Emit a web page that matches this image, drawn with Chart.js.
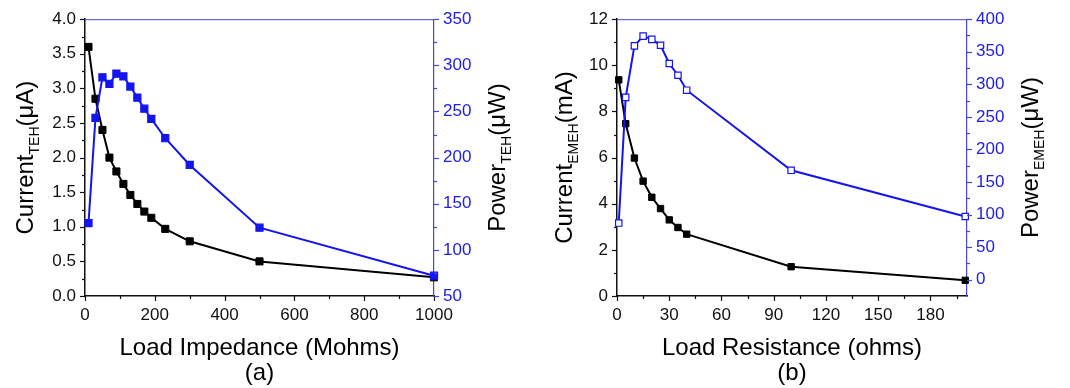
<!DOCTYPE html>
<html><head><meta charset="utf-8">
<script src="https://cdn.jsdelivr.net/npm/chart.js@4/dist/chart.umd.min.js"></script>
<style>
html,body{margin:0;padding:0;background:#fff;}
#wrap{position:relative;width:1070px;height:388px;overflow:hidden;}
.box{position:absolute;top:0;width:535px;height:388px;}
canvas{display:block;}
</style></head><body>
<div id="wrap">
<div class="box" style="left:0"><canvas id="ca" width="535" height="388"></canvas></div>
<div class="box" style="left:535px"><canvas id="cb" width="535" height="388"></canvas></div>
</div>
<script>
// ---- Panel (a): TEH ----
const aLoad    = [10, 30, 50, 70, 90, 110, 130, 150, 170, 190, 230, 300, 500, 1000];
const aCurrent = [3.60, 2.85, 2.40, 2.00, 1.80, 1.62, 1.46, 1.33, 1.22, 1.13, 0.97, 0.79, 0.50, 0.27];
const aPower   = [129, 243, 287, 280, 291, 288, 277, 265, 253, 242, 221, 192, 124, 72];
const aXTicks  = [0, 200, 400, 600, 800, 1000];
const aYLTicks = [0, 0.5, 1, 1.5, 2, 2.5, 3, 3.5, 4];
const aYLLabels = ['0.0','0.5','1.0','1.5','2.0','2.5','3.0','3.5','4.0'];
const aYRTicks = [50, 100, 150, 200, 250, 300, 350];

// ---- Panel (b): EMEH ----
const bLoad    = [1, 5, 10, 15, 20, 25, 30, 35, 40, 100, 200];
const bCurrent = [9.37, 7.47, 5.98, 4.98, 4.28, 3.79, 3.30, 2.97, 2.68, 1.27, 0.68];
const bPower   = [87, 280, 359, 374, 369, 360, 332, 314, 291, 168, 97];
const bXTicks  = [0, 30, 60, 90, 120, 150, 180];
const bYLTicks = [0, 2, 4, 6, 8, 10, 12];
const bYRTicks = [0, 50, 100, 150, 200, 250, 300, 350, 400];

const FONT = "'Liberation Sans', Arial, sans-serif";
const BLUE = '#1414ee';
const AXBLUE = '#4545e0';
const TICKBLUE = '#2020e0';

function pts(xs, ys){ return xs.map((x,i)=>({x:x, y:ys[i]})); }
function setTicks(arr){ return function(scale){ scale.ticks = arr.map(v=>({value:v})); }; }
function minorsOf(arr, lo, hi){
  const out=[]; const step = arr[1]-arr[0];
  for(let i=0;i<arr.length-1;i++) out.push((arr[i]+arr[i+1])/2);
  const last = arr[arr.length-1]+step/2; if(last<=hi) out.push(last);
  const first = arr[0]-step/2; if(first>=lo && first!==lo) out.unshift(first);
  return out;
}

function drawRich(ctx, parts, x, y, rotate, size, subSize, subDy){
  const widths = parts.map(p=>{ ctx.font=(p[1]?subSize:size)+'px '+FONT; return ctx.measureText(p[0]).width; });
  const total = widths.reduce((a,b)=>a+b,0);
  ctx.save();
  ctx.translate(x,y);
  if(rotate) ctx.rotate(-Math.PI/2);
  ctx.textAlign='left'; ctx.textBaseline='alphabetic'; ctx.fillStyle='#000';
  let cx=-total/2;
  parts.forEach((p,i)=>{ ctx.font=(p[1]?subSize:size)+'px '+FONT; ctx.fillText(p[0], cx, p[1]?subDy:0); cx+=widths[i]; });
  ctx.restore();
}

const marksPlugin = {
  id:'marks',
  afterDraw(chart, args, o){
    const ctx = chart.ctx, a = chart.chartArea;
    ctx.save();
    ctx.strokeStyle = AXBLUE; ctx.lineWidth = 1;
    ctx.beginPath(); ctx.moveTo(a.left, a.top+0.5); ctx.lineTo(a.right, a.top+0.5); ctx.stroke();
    for(const m of o.axes){
      const s = chart.scales[m.id];
      ctx.strokeStyle = m.color; ctx.lineWidth = 1.2;
      const draw=(v,len)=>{
        const p = Math.round(s.getPixelForValue(v))+0.5;
        ctx.beginPath();
        if(m.pos==='bottom'){ ctx.moveTo(p,a.bottom); ctx.lineTo(p,a.bottom+len); }
        else if(m.pos==='left'){ ctx.moveTo(a.left,p); ctx.lineTo(a.left-len,p); }
        else { ctx.moveTo(a.right,p); ctx.lineTo(a.right+len,p); }
        ctx.stroke();
      };
      m.major.forEach(v=>draw(v,5));
      m.minor.forEach(v=>draw(v,3));
    }
    const cxm = (a.left+a.right)/2, cym=(a.top+a.bottom)/2;
    drawRich(ctx, [[o.xTitle,0]], cxm, 355, false, 24, 14, 0);
    drawRich(ctx, [[o.caption,0]], cxm, 380, false, 24, 14, 0);
    drawRich(ctx, o.yLeft, a.left-o.yLeftOff, cym, true, 24, 14, 6);
    drawRich(ctx, o.yRight, a.right+o.yRightOff, cym, true, 24, 14, 6);
    ctx.restore();
  }
};

function makeChart(id, c){
  const tickFont = {family:FONT, size:17};
  return new Chart(document.getElementById(id), {
    type:'scatter',
    data:{ datasets:[
      { data: pts(c.xs, c.power), yAxisID:'y1', showLine:true, borderColor:BLUE, borderWidth:2,
        pointStyle:'rect', pointRadius:c.pr, pointBackgroundColor:c.hollow?'#fff':BLUE,
        pointBorderColor:BLUE, pointBorderWidth:1.2, clip:10, order:0 },
      { data: pts(c.xs, c.current), yAxisID:'y', showLine:true, borderColor:'#000', borderWidth:2,
        pointStyle:'rect', pointRadius:c.prBlack, pointBackgroundColor:'#000', pointBorderColor:'#000',
        pointBorderWidth:1, clip:10, order:1 }
    ]},
    options:{
      responsive:false, animation:false, devicePixelRatio:1,
      layout:{padding:{top:15,left:0,right:0,bottom:0}},
      plugins:{ legend:{display:false}, tooltip:{enabled:false},
        marks:{ axes:[
          {id:'x', pos:'bottom', color:'#111', major:c.xTicks, minor:minorsOf(c.xTicks, c.xMin, c.xMax)},
          {id:'y', pos:'left', color:'#111', major:c.yTicks, minor:minorsOf(c.yTicks, c.yMin, c.yMax)},
          {id:'y1', pos:'right', color:AXBLUE, major:c.y1Ticks, minor:minorsOf(c.y1Ticks, c.y1Min, c.y1Max)}
        ], xTitle:c.xTitle, caption:c.caption, yLeft:c.yLeft, yRight:c.yRight, yLeftOff:c.yLeftOff, yRightOff:c.yRightOff }
      },
      scales:{
        x:{ type:'linear', position:'bottom', min:c.xMin, max:c.xMax, afterBuildTicks:setTicks(c.xTicks),
            afterFit:s=>{s.height=92;}, grid:{display:false, drawTicks:false},
            border:{display:true, color:'#111', width:1.5},
            ticks:{padding:9, font:tickFont, color:'#111', maxRotation:0, autoSkip:false,
                   callback:(v)=>String(v)} },
        y:{ type:'linear', position:'left', min:c.yMin, max:c.yMax, afterBuildTicks:setTicks(c.yTicks),
            afterFit:s=>{s.width=c.leftW;}, grid:{display:false, drawTicks:false},
            border:{display:true, color:'#111', width:1.5},
            ticks:{padding:9, font:tickFont, color:'#111', autoSkip:false,
                   callback:(v,i)=> c.yLabels ? c.yLabels[i] : String(v)} },
        y1:{ type:'linear', position:'right', min:c.y1Min, max:c.y1Max, afterBuildTicks:setTicks(c.y1Ticks),
            afterFit:s=>{s.width=c.rightW;}, grid:{display:false, drawTicks:false},
            border:{display:true, color:AXBLUE, width:1.2},
            ticks:{padding:9, font:tickFont, color:TICKBLUE, autoSkip:false, callback:(v)=>String(v)} }
      }
    },
    plugins:[marksPlugin]
  });
}

makeChart('ca', {
  xs:aLoad, current:aCurrent, power:aPower, hollow:false, pr:5, prBlack:5,
  xMin:0, xMax:1000, xTicks:aXTicks,
  yMin:0, yMax:4, yTicks:aYLTicks, yLabels:aYLLabels,
  y1Min:50, y1Max:350, y1Ticks:aYRTicks,
  leftW:85, rightW:101,
  xTitle:'Load Impedance (Mohms)', caption:'(a)',
  yLeft:[['Current',0],['TEH',1],['(\u03bcA)',0]], yRight:[['Power',0],['TEH',1],['(\u03bcW)',0]],
  yLeftOff:52, yRightOff:71
});
makeChart('cb', {
  xs:bLoad, current:bCurrent, power:bPower, hollow:true, pr:4.5, prBlack:4.5,
  xMin:0, xMax:201, xTicks:bXTicks,
  yMin:0, yMax:12, yTicks:bYLTicks, yLabels:null,
  y1Min:-25, y1Max:400, y1Ticks:bYRTicks,
  leftW:82, rightW:103,
  xTitle:'Load Resistance (ohms)', caption:'(b)',
  yLeft:[['Current',0],['EMEH',1],['(mA)',0]], yRight:[['Power',0],['EMEH',1],['(\u03bcW)',0]],
  yLeftOff:45, yRightOff:71
});
</script>
</body></html>
